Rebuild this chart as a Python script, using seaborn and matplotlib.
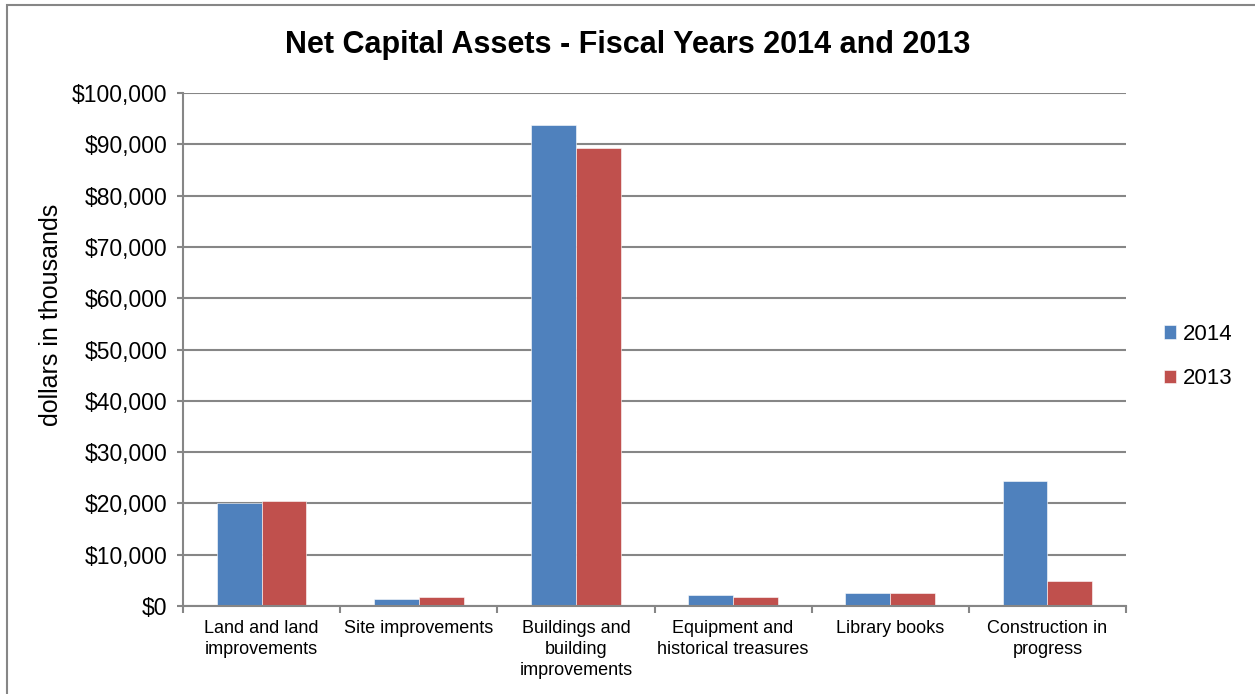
import pandas as pd
import matplotlib
matplotlib.use("Agg")
import matplotlib.pyplot as plt
import seaborn as sns
from matplotlib.ticker import FuncFormatter, FixedLocator
from matplotlib.patches import Rectangle

# values (dollars in thousands)
categories = ["Land and land\nimprovements", "Site improvements",
              "Buildings and\nbuilding\nimprovements",
              "Equipment and\nhistorical treasures", "Library books",
              "Construction in\nprogress"]
values_2014 = [20000, 1400, 93850, 2100, 2500, 24300]
values_2013 = [20500, 1750, 89200, 1700, 2500, 4900]
years = ["2014", "2013"]
colors = ["#4F81BD", "#C0504D"]

df = pd.DataFrame({
    "category": categories * 2,
    "value": values_2014 + values_2013,
    "year": [years[0]] * len(categories) + [years[1]] * len(categories),
})

sns.set_theme(style="white")
plt.rcParams["font.family"] = ["Liberation Sans", "DejaVu Sans"]
plt.rcParams["text.color"] = "black"
plt.rcParams["axes.labelcolor"] = "black"
plt.rcParams["xtick.labelcolor"] = "black"
plt.rcParams["ytick.labelcolor"] = "black"

fig = plt.figure(figsize=(12.55, 6.94), dpi=100)
ax = fig.add_axes([183 / 1255, 1 - 606 / 694, (1126 - 183) / 1255, (606 - 93) / 694])

sns.barplot(data=df, x="category", y="value", hue="year", hue_order=years,
            palette=colors, width=2 / 3.5, gap=0, ax=ax, saturation=1,
            edgecolor="white", linewidth=0.4)

ax.set_ylim(0, 100000)
ax.set_xlim(-0.5, len(categories) - 0.5)
ax.set_yticks(range(0, 100001, 10000))
ax.yaxis.set_major_formatter(FuncFormatter(lambda v, p: f"${v:,.0f}"))
ax.grid(axis="y", color="#868686", linewidth=1.5)
ax.set_axisbelow(True)

for s in ["top", "right"]:
    ax.spines[s].set_visible(False)
for s in ["left", "bottom"]:
    ax.spines[s].set_color("#868686")
    ax.spines[s].set_linewidth(1.5)

ax.tick_params(axis="y", which="major", left=True, length=4.5, width=1.5,
               color="#868686", labelsize=16.5, pad=7)
ax.tick_params(axis="x", which="major", length=0, labelsize=13, pad=10)
ax.xaxis.set_minor_locator(FixedLocator([i - 0.5 for i in range(len(categories) + 1)]))
ax.tick_params(axis="x", which="minor", bottom=True, length=5, width=1.5,
               color="#868686")
for lbl in ax.get_xticklabels():
    lbl.set_linespacing(1.3)

ax.set_xlabel("")
ax.set_ylabel("dollars in thousands", fontsize=18)
ax.yaxis.set_label_coords(-0.127, 0.567)

fig.text(0.5, 1 - 45 / 694, "Net Capital Assets - Fiscal Years 2014 and 2013",
         ha="center", va="center", fontsize=22, fontweight="bold")

ax.legend(loc="center left", bbox_to_anchor=(1164 / 1255, 1 - 356.5 / 694),
          bbox_transform=fig.transFigure, frameon=False, borderpad=0,
          borderaxespad=0, fontsize=16, handlelength=0.55, handleheight=0.55,
          handletextpad=0.3, labelspacing=1.05)

fig.patches.append(Rectangle((7 / 1255, -0.1), 1.2, 1 - 5 / 694 + 0.1,
                             transform=fig.transFigure, fill=False,
                             edgecolor="#868686", linewidth=1.5))

fig.savefig("out.png", dpi=100)
